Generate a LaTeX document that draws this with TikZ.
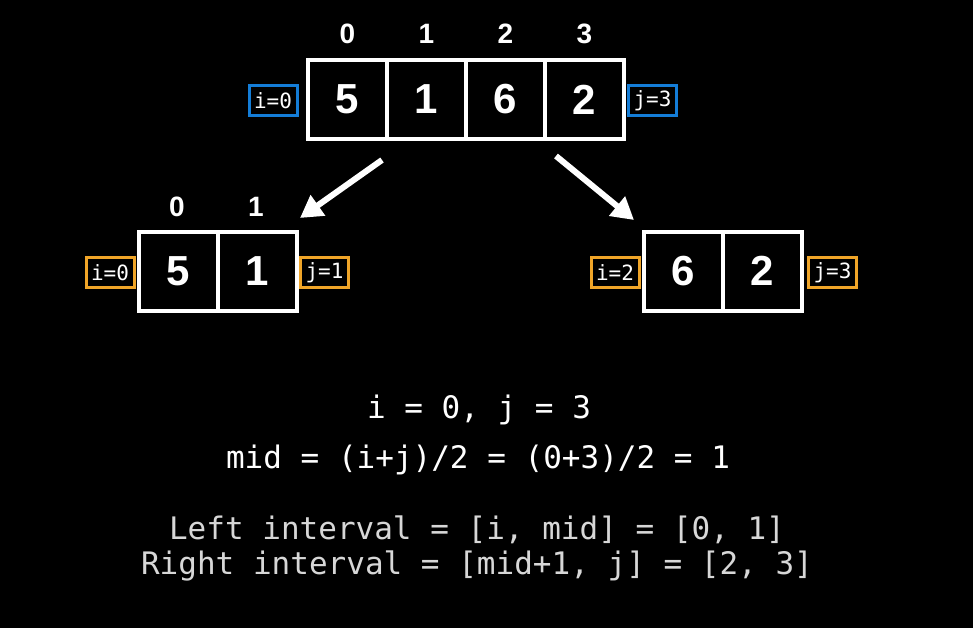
\documentclass[tikz,border=0pt]{standalone}
\usepackage{fontspec}
\setmainfont{Liberation Sans}
\newfontfamily\monof{DejaVu Sans Mono}
\usetikzlibrary{arrows.meta}
\definecolor{bluebox}{RGB}{20,125,215}
\definecolor{orangebox}{RGB}{240,165,40}
\definecolor{lgray}{RGB}{215,215,215}
\tikzset{
  cell/.style={draw=white, line width=4pt, minimum width=79pt, minimum height=79pt, inner sep=0pt, text=white, font=\fontsize{42}{46}\selectfont\bfseries},
  idx/.style={text=white, font=\fontsize{28}{32}\selectfont\bfseries, inner sep=0pt},
  tagb/.style={draw=bluebox, line width=3pt, minimum width=48pt, minimum height=30pt, inner sep=0pt, text=white, font=\monof\fontsize{21}{24}\selectfont},
  tago/.style={tagb, draw=orangebox},
  bigarrow/.style={draw=white, line width=6pt, -{Triangle[length=22pt,width=24pt]}},
  eq/.style={text=white, font=\monof\fontsize{31}{36}\selectfont, inner sep=0pt},
  eqg/.style={eq, text=lgray}
}
\begin{document}
\begin{tikzpicture}[x=1pt,y=-1pt]
\fill[black] (0,0) rectangle (973,628);
\useasboundingbox (0,0) rectangle (973,628);
% top array
\node[cell] (t0) at (347.5,99.5) {5};
\node[cell] (t1) at (426.5,99.5) {1};
\node[cell] (t2) at (505.5,99.5) {6};
\node[cell] (t3) at (584.5,99.5) {2};
\node[idx] (ti0) at (347.5,34) {0};
\node[idx] (ti1) at (426.5,34) {1};
\node[idx] (ti2) at (505.5,34) {2};
\node[idx] (ti3) at (584.5,34) {3};
\node[tagb] (ti) at (273,100.5) {i=0};
\node[tagb] (tj) at (652.5,100.5) {j=3};
% left array
\node[cell] (l0) at (178,271) {5};
\node[cell] (l1) at (257,271) {1};
\node[idx] (li0) at (177,207) {0};
\node[idx] (li1) at (256,207) {1};
\node[tago] (li) at (110,272.5) {i=0};
\node[tago] (lj) at (324.5,272.5) {j=1};
% right array
\node[cell] (r0) at (683,271) {6};
\node[cell] (r1) at (762,271) {2};
\node[tago] (ri) at (615,272.5) {i=2};
\node[tago] (rj) at (832.5,272.5) {j=3};
% arrows
\coordinate (la) at (382,160);
\coordinate (lb) at (300,218);
\coordinate (ra) at (556,156);
\coordinate (rb) at (634,220);
\draw[bigarrow] (la) -- (lb);
\draw[bigarrow] (ra) -- (rb);
% text
\node[eq] (e1) at (479,410) {i = 0, j = 3};
\node[eq] (e2) at (478,460) {mid = (i+j)/2 = (0+3)/2 = 1};
\node[eqg] (e3) at (477,530) {Left interval = [i, mid] = [0, 1]};
\node[eqg] (e4) at (477,566) {Right interval = [mid+1, j] = [2, 3]};
\end{tikzpicture}
\end{document}
